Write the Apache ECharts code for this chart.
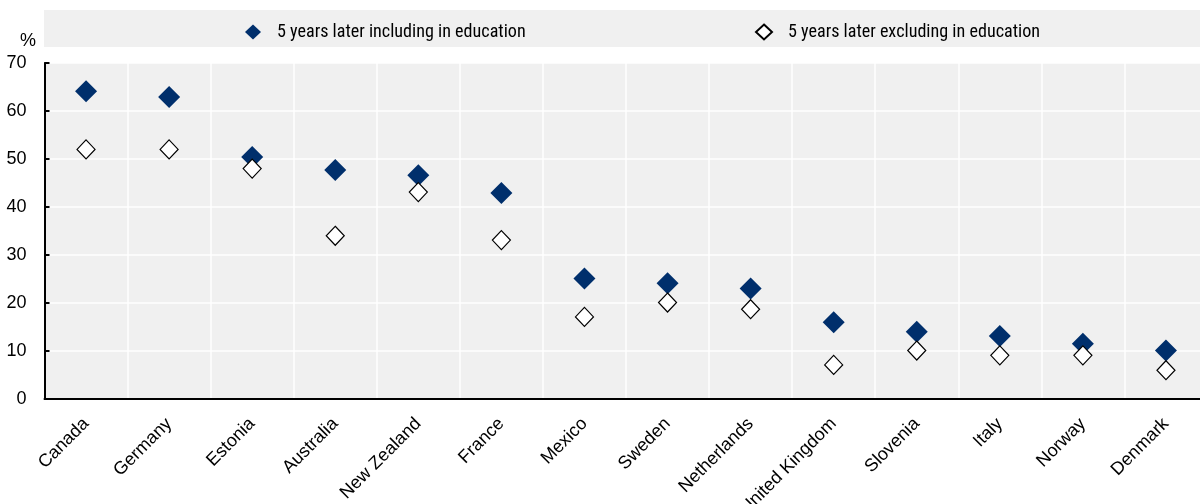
<!DOCTYPE html>
<html>
<head>
<meta charset="utf-8">
<script src="https://cdn.jsdelivr.net/npm/echarts@6/dist/echarts.min.js"></script>
<style>html,body{margin:0;padding:0;background:#fff}#c{width:1200px;height:504px}</style>
</head>
<body>
<div id="c"></div>
<script>
const categories = ['Canada','Germany','Estonia','Australia','New Zealand','France','Mexico','Sweden','Netherlands','United Kingdom','Slovenia','Italy','Norway','Denmark'];
const includingEdu = [64.1, 62.9, 50.4, 47.7, 46.6, 42.9, 25.1, 24.1, 23.0, 16.0, 14.0, 13.1, 11.5, 10.1];
const excludingEdu = [52.0, 52.0, 48.0, 34.0, 43.1, 33.1, 17.1, 20.1, 18.7, 7.1, 10.1, 9.1, 9.1, 6.0];
const seriesNames = ['5 years later including in education', '5 years later excluding in education'];
const yTicks = [0, 10, 20, 30, 40, 50, 60, 70];

const FONT = '"Liberation Sans", Arial, sans-serif';
const NAVY = '#002F6C';

// Legend in the reference uses a narrow face; use one if installed, else regular at matching width.
function pickLegendFont() {
  const ctx = document.createElement('canvas').getContext('2d');
  const sample = seriesNames[0];
  const targetW = 249;
  const w = f => { ctx.font = f; return ctx.measureText(sample).width; };
  const cands = [
    {weight: 'normal', family: '"Liberation Sans Narrow"'},
    {weight: 'normal', family: '"Arial Narrow"'},
    {weight: 'condensed', family: '"Liberation Sans"'},
    {weight: 'condensed', family: '"Noto Sans"'},
    {weight: 'normal', family: '"Roboto Condensed"'},
    {weight: 'normal', family: '"DejaVu Sans Condensed"'}
  ];
  const regular = w('20px "Liberation Sans"');
  for (const c of cands) {
    const mono = w('20px monospace');
    const cw = w(c.weight + ' 20px ' + c.family + ', monospace');
    if (Math.abs(cw - mono) < 0.5) continue;
    if (cw < regular * 0.92) {
      const size = Math.round(20 * targetW / cw * 10) / 10;
      return {fontWeight: c.weight, fontFamily: c.family + ', ' + FONT, fontSize: size};
    }
  }
  return {fontWeight: 'normal', fontFamily: FONT, fontSize: 16};
}
const LF = pickLegendFont();

const chart = echarts.init(document.getElementById('c'), null, {renderer: 'canvas'});
chart.setOption({
  animation: false,
  textStyle: {fontFamily: FONT},
  graphic: [
    {type: 'rect', left: 44, top: 10, z: -10, shape: {width: 1156, height: 37}, style: {fill: '#f0f0f0'}},
    {type: 'text', left: 20, top: 32, style: {text: '%', font: '18px ' + FONT, fill: '#000'}}
  ],
  legend: [
    {
      data: [seriesNames[0]], left: 240, top: 18, itemWidth: 16, itemHeight: 15,
      textStyle: {fontSize: LF.fontSize, fontWeight: LF.fontWeight, color: '#000', fontFamily: LF.fontFamily, padding: [0, 0, 0, 11]}
    },
    {
      data: [seriesNames[1]], left: 750, top: 18, itemWidth: 16, itemHeight: 15,
      textStyle: {fontSize: LF.fontSize, fontWeight: LF.fontWeight, color: '#000', fontFamily: LF.fontFamily, padding: [0, 0, 0, 11]}
    }
  ],
  grid: {left: 44.5, top: 63, width: 1163, height: 336, outerBoundsMode: 'none', containLabel: false,
    show: true, backgroundColor: '#f0f0f0', borderWidth: 0},
  xAxis: {
    type: 'category', data: categories, boundaryGap: true,
    axisLine: {lineStyle: {color: '#000', width: 2}},
    axisTick: {inside: true, length: 6, lineStyle: {color: '#000', width: 2}},
    axisLabel: {rotate: 45, fontSize: 18, color: '#000', margin: 22, interval: 0, fontFamily: FONT},
    splitLine: {show: true, lineStyle: {color: '#fff', width: 1.5}}
  },
  yAxis: {
    type: 'value', min: 0, max: 70, interval: 10,
    axisLine: {show: true, lineStyle: {color: '#000', width: 2}},
    axisTick: {show: true, inside: true, length: 5, lineStyle: {color: '#000', width: 2}},
    axisLabel: {fontSize: 18, color: '#000', margin: 18, fontFamily: FONT,
      formatter: v => yTicks.includes(v) ? String(v) : ''},
    splitLine: {show: true, lineStyle: {color: '#fff', width: 1.5}}
  },
  series: [
    {
      name: seriesNames[0], type: 'scatter', data: includingEdu, symbol: 'diamond', symbolSize: [22, 22],
      itemStyle: {color: NAVY, opacity: 1}, z: 2
    },
    {
      name: seriesNames[1], type: 'scatter', data: excludingEdu, symbol: 'diamond', symbolSize: [18, 19],
      itemStyle: {color: '#fff', borderColor: '#000', borderWidth: 1.2, opacity: 1}, z: 3
    }
  ]
});
</script>
</body>
</html>
